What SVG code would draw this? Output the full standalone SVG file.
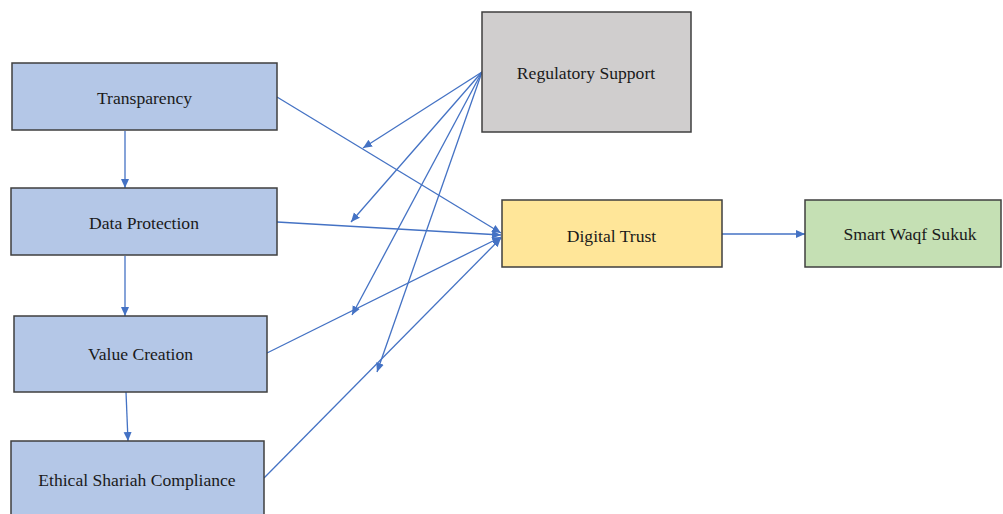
<svg xmlns="http://www.w3.org/2000/svg" width="1003" height="514" viewBox="0 0 1003 514">
<defs>
<style>
.box{stroke:#3f3f3f;stroke-width:1.5}
.blue{fill:#b4c7e7}
.gray{fill:#d0cece}
.yellow{fill:#ffe699}
.green{fill:#c5e0b4}
.lbl{font-family:"Liberation Serif","Times New Roman",serif;font-size:17.6px;fill:#1a1a1a;text-anchor:middle}
.c{stroke:#4472c4;stroke-width:1.3;fill:none;marker-end:url(#ah)}
</style>
<marker id="ah" markerUnits="userSpaceOnUse" markerWidth="10" markerHeight="10" viewBox="0 0 10 10" refX="9" refY="5" orient="auto">
<path d="M0,1 L9,5 L0,9 Z" fill="#4472c4"/>
</marker>
</defs>
<rect width="1003" height="514" fill="#ffffff"/>
<g id="connectors">
<line class="c" x1="125" y1="131" x2="125" y2="188"/>
<line class="c" x1="125" y1="256" x2="125" y2="316"/>
<line class="c" x1="126" y1="392" x2="128" y2="441"/>
<line class="c" x1="277" y1="97" x2="501" y2="233"/>
<line class="c" x1="277" y1="222" x2="501" y2="235"/>
<line class="c" x1="267" y1="353" x2="501" y2="237"/>
<line class="c" x1="264" y1="478" x2="501" y2="238"/>
<line class="c" x1="722" y1="234" x2="805" y2="234"/>
<line class="c" x1="482" y1="72" x2="363" y2="148"/>
<line class="c" x1="482" y1="72" x2="351" y2="222"/>
<line class="c" x1="482" y1="72" x2="352" y2="315"/>
<line class="c" x1="482" y1="72" x2="377" y2="372"/>
</g>
<g id="transparency">
<rect class="box blue" x="12" y="63" width="265" height="67"/>
<text class="lbl" x="144.5" y="104">Transparency</text>
</g>
<g id="data-protection">
<rect class="box blue" x="11" y="188" width="266" height="67"/>
<text class="lbl" x="144" y="229">Data Protection</text>
</g>
<g id="value-creation">
<rect class="box blue" x="14" y="316" width="253" height="76"/>
<text class="lbl" x="140.5" y="360">Value Creation</text>
</g>
<g id="ethical-shariah-compliance">
<rect class="box blue" x="11" y="441" width="253" height="85"/>
<text class="lbl" x="137" y="486">Ethical Shariah Compliance</text>
</g>
<g id="regulatory-support">
<rect class="box gray" x="482" y="12" width="209" height="120"/>
<text class="lbl" x="586" y="79">Regulatory Support</text>
</g>
<g id="digital-trust">
<rect class="box yellow" x="502" y="200" width="220" height="67"/>
<text class="lbl" x="611.5" y="242">Digital Trust</text>
</g>
<g id="smart-waqf-sukuk">
<rect class="box green" x="805" y="200" width="196" height="67"/>
<text class="lbl" x="910" y="240">Smart Waqf Sukuk</text>
</g>
</svg>
